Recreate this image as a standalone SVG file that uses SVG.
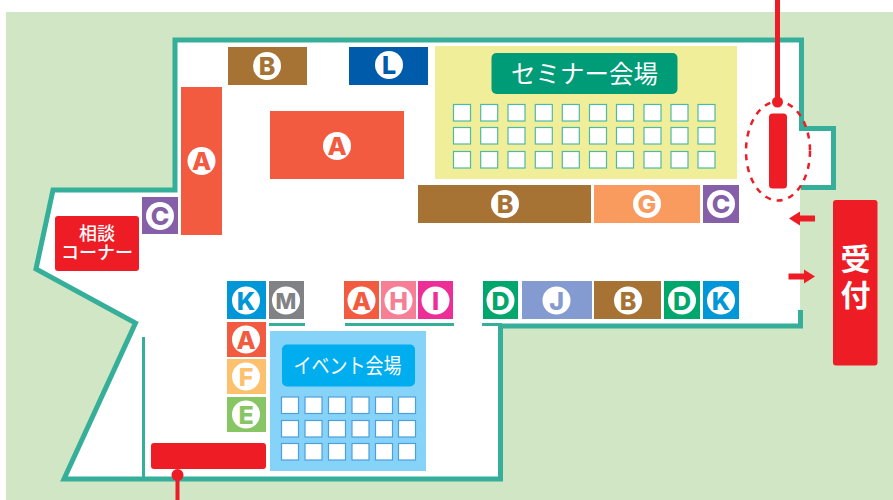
<svg xmlns="http://www.w3.org/2000/svg" width="893" height="500" viewBox="0 0 893 500">
<style>
text{font-family:"Noto Sans CJK JP","Noto Sans",sans-serif;text-anchor:middle}
.w{fill:#fff}
.l{font-family:"Inter","Liberation Sans",sans-serif;font-weight:800;font-size:25px}
.t{fill:#fff}
.b{font-weight:500}
.s1{fill:#fff;stroke:#4dbba3;stroke-width:1.2}
.s2{fill:#fff;stroke:#4f9fdc;stroke-width:1.2}
.wall{fill:none;stroke:#35af99;stroke-width:5;stroke-linejoin:miter}
.u{fill:#35af99}
.r{fill:#ee1c25}
</style>
<defs>
<g id="s1"><rect class="s1" width="17" height="16.5"/></g>
<g id="s2"><rect class="s2" width="17" height="16.5"/></g>
</defs>
<rect x="6" y="12" width="887" height="488" fill="#d0e6c4"/>
<g id="floor">
<polygon class="w" points="175,40 801.500,40 801.500,128.500 833.500,128.500 833.500,187.500 800,187.500 800,326 500.500,326 500.500,479 64,479 135.500,323 36,269 53,190 175,190"/>
<polyline class="wall" points="800.500,310 800.500,326 500.500,326 500.500,479 64,479 135.500,323 36,269 53,190 175,190 175,40 801.500,40 801.500,128.500 833.500,128.500 833.500,187.500 801,187.500"/>
<rect class="u" x="142" y="337" width="3" height="142"/>
<rect class="u" x="269" y="323" width="36" height="3"/>
<rect class="u" x="345" y="323" width="109" height="3"/>
<rect class="u" x="482" y="323" width="20" height="3"/>
</g>
<g id="seminar">
<rect x="435" y="46" width="302" height="133" fill="#f0ee98"/>
<rect x="491.500" y="53" width="186" height="41" rx="5" fill="#009b77"/>
<text class="t" x="584.500" y="83" font-size="25" textLength="147" lengthAdjust="spacingAndGlyphs">セミナー会場</text>
<use href="#s1" x="453.500" y="104.500"/><use href="#s1" x="480.700" y="104.500"/><use href="#s1" x="508" y="104.500"/><use href="#s1" x="535.300" y="104.500"/><use href="#s1" x="562.300" y="104.500"/><use href="#s1" x="589.500" y="104.500"/><use href="#s1" x="616.500" y="104.500"/><use href="#s1" x="644" y="104.500"/><use href="#s1" x="671" y="104.500"/><use href="#s1" x="698" y="104.500"/>
<use href="#s1" x="453.500" y="127.500"/><use href="#s1" x="480.700" y="127.500"/><use href="#s1" x="508" y="127.500"/><use href="#s1" x="535.300" y="127.500"/><use href="#s1" x="562.300" y="127.500"/><use href="#s1" x="589.500" y="127.500"/><use href="#s1" x="616.500" y="127.500"/><use href="#s1" x="644" y="127.500"/><use href="#s1" x="671" y="127.500"/><use href="#s1" x="698" y="127.500"/>
<use href="#s1" x="453.500" y="151.500"/><use href="#s1" x="480.700" y="151.500"/><use href="#s1" x="508" y="151.500"/><use href="#s1" x="535.300" y="151.500"/><use href="#s1" x="562.300" y="151.500"/><use href="#s1" x="589.500" y="151.500"/><use href="#s1" x="616.500" y="151.500"/><use href="#s1" x="644" y="151.500"/><use href="#s1" x="671" y="151.500"/><use href="#s1" x="698" y="151.500"/>
</g>
<g id="event">
<rect x="270" y="331" width="156" height="140" fill="#85d3f9"/>
<rect x="282" y="344.500" width="133" height="42" rx="5" fill="#00aeef"/>
<text class="t" x="347.500" y="373" font-size="21" textLength="108" lengthAdjust="spacingAndGlyphs">イベント会場</text>
<use href="#s2" x="281.500" y="397"/><use href="#s2" x="305" y="397"/><use href="#s2" x="328.500" y="397"/><use href="#s2" x="352" y="397"/><use href="#s2" x="375.500" y="397"/><use href="#s2" x="398.500" y="397"/>
<use href="#s2" x="281.500" y="420.500"/><use href="#s2" x="305" y="420.500"/><use href="#s2" x="328.500" y="420.500"/><use href="#s2" x="352" y="420.500"/><use href="#s2" x="375.500" y="420.500"/><use href="#s2" x="398.500" y="420.500"/>
<use href="#s2" x="281.500" y="443.500"/><use href="#s2" x="305" y="443.500"/><use href="#s2" x="328.500" y="443.500"/><use href="#s2" x="352" y="443.500"/><use href="#s2" x="375.500" y="443.500"/><use href="#s2" x="398.500" y="443.500"/>
</g>
<g id="booth-b1"><rect x="228" y="47" width="79" height="38" fill="#a77334"/><circle class="w" cx="267" cy="66" r="14"/><text class="l" x="267" y="75" fill="#a77334">B</text></g>
<g id="booth-l"><rect x="349" y="47" width="79" height="38" fill="#005bab"/><circle class="w" cx="389" cy="65" r="14"/><text class="l" x="389" y="74" fill="#005bab">L</text></g>
<g id="booth-a1"><rect x="181" y="87" width="41" height="148" fill="#f35b41"/><circle class="w" cx="201.500" cy="161" r="14"/><text class="l" x="201.500" y="170" fill="#f35b41">A</text></g>
<g id="booth-a2"><rect x="270" y="111" width="134" height="68" fill="#f35b41"/><circle class="w" cx="337" cy="146" r="14"/><text class="l" x="337" y="155" fill="#f35b41">A</text></g>
<g id="booth-c1"><rect x="142" y="197" width="36" height="37" fill="#855fa8"/><circle class="w" cx="160" cy="216" r="14"/><text class="l" x="160" y="225" fill="#855fa8">C</text></g>
<g id="consult"><rect class="r" x="55" y="216" width="84" height="55" rx="3"/><text class="t b" font-size="18"><tspan x="97" y="240">相談</tspan><tspan x="97" y="259">コーナー</tspan></text></g>
<g id="booth-b2"><rect x="418" y="185" width="173" height="38" fill="#a77334"/><circle class="w" cx="505" cy="204" r="14"/><text class="l" x="505" y="213" fill="#a77334">B</text></g>
<g id="booth-g"><rect x="594" y="185" width="106" height="38" fill="#f99b5f"/><circle class="w" cx="647" cy="204" r="14"/><text class="l" x="647" y="213" fill="#f99b5f">G</text></g>
<g id="booth-c2"><rect x="703" y="185" width="36" height="38" fill="#855fa8"/><circle class="w" cx="721" cy="204" r="14"/><text class="l" x="721" y="213" fill="#855fa8">C</text></g>
<g id="booth-k1"><rect x="227" y="281" width="39" height="38" fill="#0097d8"/><circle class="w" cx="246" cy="300.500" r="14"/><text class="l" x="246" y="309.500" fill="#0097d8">K</text></g>
<g id="booth-m"><rect x="269" y="281" width="35" height="38" fill="#808285"/><circle class="w" cx="286" cy="300.500" r="14"/><text class="l" x="286" y="309" fill="#808285" style="font-size:22px">M</text></g>
<g id="booth-a3"><rect x="344" y="281" width="35" height="38" fill="#f35b41"/><circle class="w" cx="361.500" cy="300.500" r="14"/><text class="l" x="361.500" y="309.500" fill="#f35b41">A</text></g>
<g id="booth-h"><rect x="381" y="281" width="35" height="38" fill="#f67f96"/><circle class="w" cx="398.500" cy="300.500" r="14"/><text class="l" x="398.500" y="309.500" fill="#f67f96">H</text></g>
<g id="booth-i"><rect x="418" y="281" width="35" height="38" fill="#ee2e97"/><circle class="w" cx="435.500" cy="300.500" r="14"/><text class="l" x="435.500" y="309.500" fill="#ee2e97">I</text></g>
<g id="booth-d1"><rect x="483" y="281" width="35" height="38" fill="#00a76c"/><circle class="w" cx="500.500" cy="300.500" r="14"/><text class="l" x="500.500" y="309.500" fill="#00a76c">D</text></g>
<g id="booth-j"><rect x="522" y="281" width="70" height="38" fill="#849bd1"/><circle class="w" cx="556.500" cy="300.500" r="14"/><text class="l" x="556.500" y="309.500" fill="#849bd1">J</text></g>
<g id="booth-b3"><rect x="594" y="281" width="67" height="38" fill="#a77334"/><circle class="w" cx="628" cy="300.500" r="14"/><text class="l" x="628" y="309.500" fill="#a77334">B</text></g>
<g id="booth-d2"><rect x="664" y="281" width="36" height="38" fill="#00a76c"/><circle class="w" cx="682" cy="300.500" r="14"/><text class="l" x="682" y="309.500" fill="#00a76c">D</text></g>
<g id="booth-k2"><rect x="703" y="281" width="36" height="38" fill="#0097d8"/><circle class="w" cx="721" cy="300.500" r="14"/><text class="l" x="721" y="309.500" fill="#0097d8">K</text></g>
<g id="booth-a4"><rect x="227" y="322" width="39" height="35" fill="#f35b41"/><circle class="w" cx="246" cy="339.500" r="14"/><text class="l" x="246" y="348.500" fill="#f35b41">A</text></g>
<g id="booth-f"><rect x="227" y="359" width="39" height="35" fill="#fdc06d"/><circle class="w" cx="246" cy="376.500" r="14"/><text class="l" x="246" y="385.500" fill="#fdc06d">F</text></g>
<g id="booth-e"><rect x="227" y="397" width="39" height="35" fill="#88c665"/><circle class="w" cx="246" cy="414.500" r="14"/><text class="l" x="246" y="423.500" fill="#88c665">E</text></g>
<g id="reception"><rect class="r" x="833" y="200" width="44.500" height="165.500" rx="3"/><text class="t" style="font-weight:700" font-size="30"><tspan x="855.500" y="270">受</tspan><tspan x="855.500" y="306">付</tspan></text></g>
<g id="marker-top"><rect class="r" x="769" y="113.500" width="18" height="75" rx="3.500"/><ellipse cx="778" cy="151" rx="32" ry="49.500" fill="none" stroke="#ee1c25" stroke-width="2.500" stroke-dasharray="6 6"/></g>
<g id="marker-bottom"><rect class="r" x="151" y="443" width="115" height="26" rx="3"/></g>
<g id="connectors">
<rect class="r" x="775" y="0" width="5" height="102"/><circle class="r" cx="777.500" cy="102" r="5.500"/>
<rect class="r" x="175.500" y="475" width="4" height="25"/><circle class="r" cx="177.500" cy="475" r="6"/>
<polygon class="r" points="789,218.500 800,211.500 800,215.500 815,215.500 815,221.500 800,221.500 800,225.500"/>
<polygon class="r" points="815,276.500 804,269.500 804,273.500 788.500,273.500 788.500,279.500 804,279.500 804,283.500"/>
</g>
</svg>
